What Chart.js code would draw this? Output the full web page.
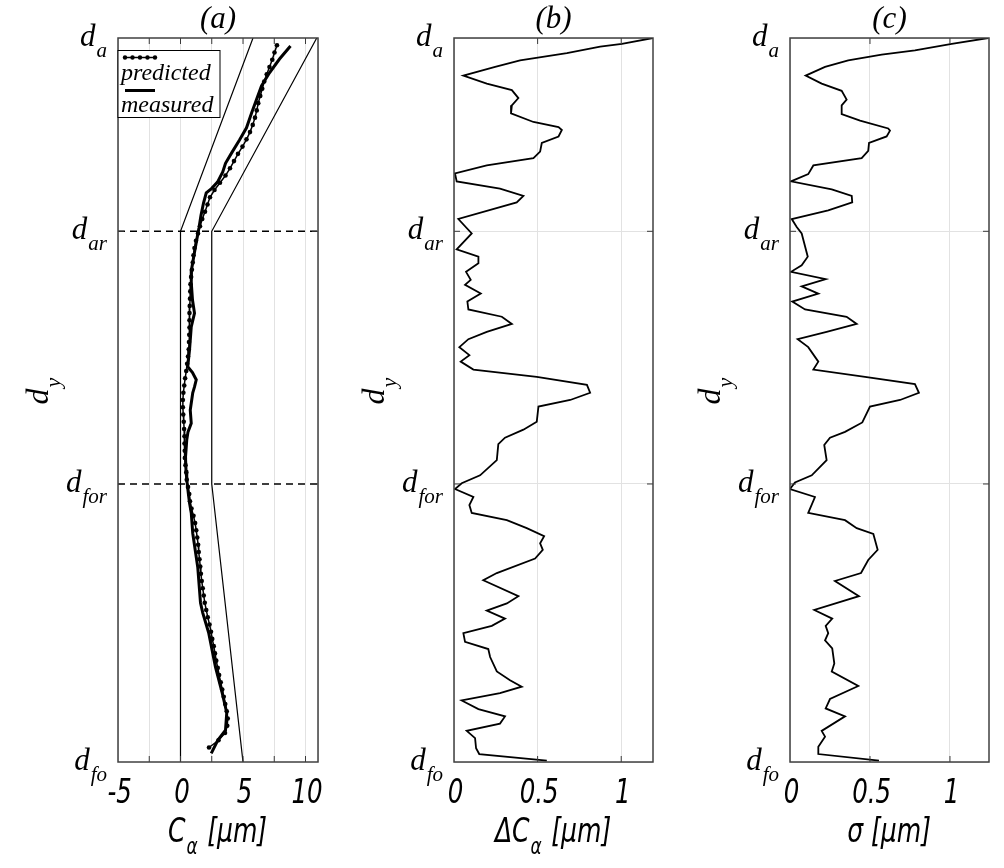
<!DOCTYPE html>
<html>
<head>
<meta charset="utf-8">
<script src="https://cdn.jsdelivr.net/npm/chart.js@4.4.0/dist/chart.umd.min.js"></script>
<style>
  body { margin: 0; background: #fff; }
  #wrap { position: relative; width: 1004px; height: 868px; }
  canvas { position: absolute; top: 0; }
</style>
</head>
<body>
<div id="wrap">
  <canvas id="chartA" width="335" height="868" style="left:0"></canvas>
  <canvas id="chartB" width="335" height="868" style="left:335px"></canvas>
  <canvas id="chartC" width="334" height="868" style="left:670px"></canvas>
</div>
<script>
// depth axis: d_fo (bottom) .. d_a (top), normalised 0..100
var depthTicks = [0, 38.4, 73.3, 100];
var depthNames = ['fo', 'for', 'ar', 'a'];

// (a) C_alpha, predicted (one sample per depth step) and measured
var predDepth = [99, 98, 97, 96, 95, 94, 93, 92, 91, 90, 89, 88, 87, 86, 85, 84, 83, 82, 81, 80,
    79, 78, 77, 76, 75, 74, 73, 72, 71, 70, 69, 68, 67, 66, 65, 64, 63, 62, 61, 60,
    59, 58, 57, 56, 55, 54, 53, 52, 51, 50, 49, 48, 47, 46, 45, 44, 43, 42, 41, 40,
    39, 38, 37, 36, 35, 34, 33, 32, 31, 30, 29, 28, 27, 26, 25, 24, 23, 22, 21, 20,
    19, 18, 17, 16, 15, 14, 13, 12, 11, 10, 9, 8, 7, 6, 5, 4, 3, 2];
var predC = [7.72, 7.52, 7.34, 7.12, 6.90, 6.70, 6.54, 6.38, 6.22, 6.10, 5.96, 5.78, 5.56, 5.28, 4.96, 4.60, 4.28, 3.96, 3.60, 3.16,
    2.72, 2.36, 2.16, 1.96, 1.74, 1.56, 1.40, 1.24, 1.12, 1.04, 0.98, 0.91, 0.85, 0.80, 0.78, 0.76, 0.74, 0.72, 0.72, 0.72,
    0.70, 0.68, 0.66, 0.60, 0.53, 0.46, 0.37, 0.30, 0.23, 0.19, 0.19, 0.22, 0.26, 0.29, 0.32, 0.32, 0.34, 0.35, 0.40, 0.46,
    0.50, 0.60, 0.70, 0.76, 0.88, 1.04, 1.17, 1.26, 1.34, 1.41, 1.46, 1.52, 1.58, 1.63, 1.70, 1.78, 1.86, 1.94, 2.06, 2.18,
    2.32, 2.44, 2.54, 2.66, 2.76, 2.86, 2.98, 3.09, 3.22, 3.34, 3.46, 3.58, 3.70, 3.78, 3.74, 3.56, 3.04, 2.28];
var measDepth = [98.9, 97.1, 95.2, 93.4, 91.4, 89.6, 87.6, 85.9, 84.1, 82.7, 81.5, 80.1, 79.2, 78.6, 77.2, 75.5, 73.8,
    72.7, 70.4, 68.0, 66.2, 63.8, 62.0, 60.1, 56.9, 54.6, 53.8, 52.8, 51.8, 51.0, 48.6, 46.8, 45.6, 44.5,
    42.1, 40.3, 39.0, 36.9, 35.8, 34.4, 31.6, 26.9, 22.0, 20.6, 17.8, 13.1, 9.5, 6.8, 4.4, 3.0, 1.2];
var measC = [8.80, 7.92, 7.12, 6.48, 6.06, 5.68, 5.28, 4.72, 4.08, 3.60, 3.38, 2.96, 2.48, 2.06, 1.84, 1.64, 1.48,
    1.36, 1.12, 0.88, 0.86, 0.96, 1.12, 0.86, 0.72, 0.58, 0.96, 1.26, 1.12, 0.98, 0.78, 0.86, 0.60, 0.50,
    0.40, 0.44, 0.50, 0.64, 0.72, 0.86, 0.98, 1.38, 1.60, 1.78, 2.26, 2.80, 3.34, 3.70, 3.60, 2.98, 2.46];

// (a) tolerance envelope
var envLowDepth = [100, 73.3, 0];
var envLowC = [5.8, 0, 0];
var envHighDepth = [100, 73.3, 38.4, 0];
var envHighC = [10.9, 2.5, 2.5, 5];

// (b) delta C_alpha
var deltaDepth = [100.0, 99.2, 98.8, 97.9, 96.9, 96.0, 94.8, 93.7, 92.8, 91.7,
    90.7, 89.6, 88.4, 87.7, 87.3, 86.4, 85.5, 84.3, 83.4, 82.4,
    81.3, 80.2, 79.2, 78.2, 77.3, 75.0, 73.0, 70.8, 69.8, 68.9,
    67.7, 66.6, 65.9, 64.7, 63.6, 62.5, 61.5, 60.5, 59.4, 58.4,
    57.3, 56.2, 55.3, 54.2, 53.2, 52.1, 51.0, 50.0, 49.1, 47.0,
    45.9, 44.8, 43.9, 41.7, 39.6, 38.5, 37.7, 36.6, 35.5, 34.4,
    33.4, 32.3, 31.2, 30.2, 29.3, 28.1, 26.1, 25.1, 22.9, 21.9,
    20.9, 19.8, 18.8, 17.8, 16.6, 15.6, 14.5, 12.5, 11.3, 10.4,
    9.5, 8.5, 7.3, 6.3, 5.3, 4.3, 3.3, 1.9, 1.1, 0.2];
var deltaC = [1.19, 1.004, 0.874, 0.675, 0.395, 0.246, 0.056, 0.196, 0.346, 0.385,
    0.346, 0.341, 0.475, 0.625, 0.645, 0.625, 0.525, 0.515, 0.475, 0.196,
    0.006, 0.016, 0.275, 0.415, 0.375, 0.026, 0.106, 0.016, 0.146, 0.146,
    0.072, 0.100, 0.066, 0.160, 0.080, 0.086, 0.286, 0.346, 0.196, 0.086,
    0.032, 0.092, 0.040, 0.116, 0.495, 0.795, 0.814, 0.695, 0.505, 0.495,
    0.415, 0.305, 0.265, 0.256, 0.156, 0.046, 0.006, 0.116, 0.092, 0.106,
    0.316, 0.435, 0.539, 0.515, 0.531, 0.485, 0.256, 0.175, 0.385, 0.316,
    0.196, 0.305, 0.226, 0.056, 0.066, 0.205, 0.216, 0.256, 0.335, 0.405,
    0.275, 0.046, 0.146, 0.305, 0.275, 0.076, 0.126, 0.132, 0.151, 0.555];

// (c) sigma
var sigmaDepth = [100.0, 99.2, 98.3, 97.7, 96.9, 96.0, 94.8, 93.7, 92.7, 91.5,
    90.7, 89.5, 88.6, 87.5, 87.2, 86.4, 85.5, 84.4, 83.4, 82.4,
    81.2, 80.2, 79.1, 78.2, 77.3, 76.2, 75.0, 73.9, 73.0, 69.8,
    68.6, 67.7, 66.7, 65.7, 64.7, 63.6, 62.5, 61.5, 60.5, 59.4,
    58.4, 57.3, 55.3, 54.2, 53.2, 52.2, 51.0, 50.0, 49.1, 46.9,
    45.6, 44.8, 43.8, 41.7, 39.6, 38.6, 37.7, 36.6, 34.4, 33.4,
    32.3, 31.5, 29.3, 27.9, 26.1, 25.0, 22.9, 21.0, 19.8, 18.8,
    17.8, 16.8, 15.7, 13.6, 12.5, 10.5, 8.7, 7.4, 6.3, 4.3,
    3.5, 2.1, 1.1, 0.2];
var sigmaVal = [1.239, 1.011, 0.781, 0.573, 0.364, 0.219, 0.098, 0.198, 0.323, 0.354,
    0.323, 0.323, 0.438, 0.614, 0.625, 0.604, 0.494, 0.489, 0.448, 0.146,
    0.114, 0.006, 0.261, 0.386, 0.389, 0.239, 0.011, 0.042, 0.073, 0.111,
    0.073, 0.006, 0.223, 0.073, 0.177, 0.014, 0.094, 0.354, 0.417, 0.229,
    0.048, 0.114, 0.177, 0.146, 0.469, 0.781, 0.806, 0.688, 0.500, 0.452,
    0.344, 0.250, 0.214, 0.229, 0.136, 0.031, 0.000, 0.156, 0.114, 0.344,
    0.417, 0.521, 0.548, 0.489, 0.444, 0.281, 0.431, 0.152, 0.264, 0.223,
    0.239, 0.219, 0.264, 0.277, 0.261, 0.427, 0.250, 0.223, 0.344, 0.198,
    0.219, 0.177, 0.177, 0.556];

// x ticks
var ticksA = [-5, -2.5, 0, 2.5, 5, 7.5, 10, 11];
var labelsA = [-5, 0, 5, 10];
var ticksBC = [0, 0.5, 1];
var labelsBC = [0, 0.5, 1];

var serif = "'Liberation Serif', 'DejaVu Serif', serif";
var narrow = "'Liberation Sans Narrow', 'DejaVu Sans Condensed', 'Liberation Sans', sans-serif";

function pts(xs, ys) {
    return xs.map(function(x, i) { return { x: x, y: ys[i] }; });
}

function line(ctx, x1, y1, x2, y2) {
    ctx.beginPath();
    ctx.moveTo(x1, y1);
    ctx.lineTo(x2, y2);
    ctx.stroke();
}

// draw text parts [{t, sub}] starting at x, baseline y, squeezed by sx; returns width
function drawParts(ctx, parts, x, y, size, family, sx, measureOnly) {
    var w = 0;
    parts.forEach(function(p) {
        var s = p.sub ? Math.round(size * 0.68) : size;
        ctx.font = 'italic ' + s + 'px ' + family;
        if (!measureOnly) {
            ctx.save();
            ctx.translate(x + w, y + (p.sub ? size * 0.36 : 0));
            ctx.scale(sx, 1);
            ctx.fillText(p.t, 0, 0);
            ctx.restore();
        }
        w += (ctx.measureText(p.t).width + (p.sub ? 2 : 1)) * sx;
    });
    return w;
}

var panelText = {
    id: 'panelText',
    afterDraw: function(chart, args, o) {
        var ctx = chart.ctx, a = chart.chartArea;
        var xs = chart.scales.x, ys = chart.scales.y;
        ctx.save();
        ctx.textAlign = 'left';
        ctx.textBaseline = 'alphabetic';

        // inward tick marks
        ctx.strokeStyle = '#3a3a3a';
        ctx.lineWidth = 1;
        o.xTicks.forEach(function(v) {
            var px = xs.getPixelForValue(v);
            if (px <= a.left + 1 || px >= a.right - 1) return;
            line(ctx, px, a.bottom, px, a.bottom - 6);
            line(ctx, px, a.top, px, a.top + 6);
        });
        depthTicks.forEach(function(v) {
            var py = ys.getPixelForValue(v);
            if (py <= a.top + 1 || py >= a.bottom - 1) return;
            line(ctx, a.left, py, a.left + 6, py);
            line(ctx, a.right, py, a.right - 6, py);
        });

        // frame
        ctx.strokeStyle = '#404040';
        ctx.lineWidth = 1.5;
        ctx.strokeRect(a.left, a.top, a.right - a.left, a.bottom - a.top);

        ctx.fillStyle = '#000';

        // x tick labels (condensed italic)
        o.xLabels.forEach(function(v) {
            var parts = [{ t: String(v) }];
            var w = drawParts(ctx, parts, 0, 0, 34, narrow, 0.8, true);
            drawParts(ctx, parts, xs.getPixelForValue(v) - w / 2 + 2, a.bottom + 41, 34, narrow, 0.8);
        });

        // depth tick labels d_xx
        depthTicks.forEach(function(v, i) {
            var parts = [{ t: 'd' }, { t: depthNames[i], sub: true }];
            var w = drawParts(ctx, parts, 0, 0, 31, serif, 1, true);
            drawParts(ctx, parts, a.left - 9 - w, ys.getPixelForValue(v) + 8, 31, serif, 1);
        });

        // panel title
        ctx.textAlign = 'center';
        ctx.font = 'italic 31px ' + serif;
        ctx.fillText(o.title, (a.left + a.right) / 2, 28);
        ctx.textAlign = 'left';

        // x axis title
        var tw = drawParts(ctx, o.xTitle, 0, 0, 34, narrow, 0.82, true);
        drawParts(ctx, o.xTitle, (a.left + a.right) / 2 - tw / 2, a.bottom + 80, 34, narrow, 0.82);

        // y axis title, rotated
        var yParts = [{ t: 'd' }, { t: 'y', sub: true }];
        var yw = drawParts(ctx, yParts, 0, 0, 32, serif, 1, true);
        ctx.save();
        ctx.translate(a.left - 70, 390);
        ctx.rotate(-Math.PI / 2);
        drawParts(ctx, yParts, -yw / 2, 0, 32, serif, 1);
        ctx.restore();

        // legend box
        if (o.legend) {
            var lx = a.left, ly = 50.5;
            ctx.fillStyle = '#fff';
            ctx.fillRect(lx, ly, 102, 67);
            ctx.strokeStyle = '#000';
            ctx.lineWidth = 1;
            ctx.strokeRect(lx, ly, 102, 67);
            ctx.lineWidth = 1.5;
            line(ctx, lx + 7, ly + 7, lx + 37, ly + 7);
            ctx.fillStyle = '#000';
            [7, 14.5, 22, 29.5, 37].forEach(function(dx) {
                ctx.beginPath();
                ctx.arc(lx + dx, ly + 7, 2.2, 0, Math.PI * 2);
                ctx.fill();
            });
            ctx.lineWidth = 3;
            line(ctx, lx + 7, ly + 40, lx + 37, ly + 40);
            ctx.font = 'italic 24px ' + serif;
            ctx.fillText('predicted', lx + 3, ly + 29);
            ctx.fillText('measured', lx + 3, ly + 61);
        }
        ctx.restore();
    }
};

function makePanel(canvasId, pad, xMin, xMax, xTicks, opts, datasets, showYGrid) {
    var ctx = document.getElementById(canvasId).getContext('2d');
    return new Chart(ctx, {
        type: 'scatter',
        data: { datasets: datasets },
        options: {
            responsive: false,
            devicePixelRatio: 1,
            animation: false,
            layout: { padding: pad },
            plugins: {
                legend: { display: false },
                tooltip: { enabled: false },
                panelText: opts
            },
            scales: {
                x: {
                    type: 'linear',
                    min: xMin,
                    max: xMax,
                    afterBuildTicks: function(scale) {
                        scale.ticks = xTicks.map(function(v) { return { value: v }; });
                    },
                    ticks: { display: false },
                    border: { display: false },
                    grid: { color: '#e2e2e2', lineWidth: 1, drawTicks: false }
                },
                y: {
                    type: 'linear',
                    min: 0,
                    max: 100,
                    afterBuildTicks: function(scale) {
                        scale.ticks = depthTicks.map(function(v) { return { value: v }; });
                    },
                    ticks: { display: false },
                    border: { display: false },
                    grid: { display: showYGrid, color: '#e2e2e2', lineWidth: 1, drawTicks: false }
                }
            }
        },
        plugins: [panelText]
    });
}

function lineSet(data, width, extra) {
    return Object.assign({
        data: data,
        showLine: true,
        borderColor: '#000',
        backgroundColor: '#000',
        borderWidth: width,
        pointRadius: 0,
        tension: 0
    }, extra || {});
}

// (a)
makePanel('chartA', { left: 118, right: 17, top: 38, bottom: 106 }, -5, 11, ticksA, {
    title: '(a)',
    xTicks: ticksA,
    xLabels: labelsA,
    xTitle: [{ t: 'C' }, { t: 'α', sub: true }, { t: ' [μm]' }],
    legend: true
}, [
    lineSet(pts(predC, predDepth), 1.5, { pointRadius: 2.3, pointBorderWidth: 0 }),
    lineSet(pts(measC, measDepth), 3),
    lineSet(pts(envLowC, envLowDepth), 1.2),
    lineSet(pts(envHighC, envHighDepth), 1.2),
    lineSet(pts([-5, 11], [depthTicks[2], depthTicks[2]]), 1.5, { borderDash: [7, 5] }),
    lineSet(pts([-5, 11], [depthTicks[1], depthTicks[1]]), 1.5, { borderDash: [7, 5] })
], false);

// (b)
makePanel('chartB', { left: 119, right: 17, top: 38, bottom: 106 }, 0, 1.19, ticksBC, {
    title: '(b)',
    xTicks: ticksBC,
    xLabels: labelsBC,
    xTitle: [{ t: 'ΔC' }, { t: 'α', sub: true }, { t: ' [μm]' }],
    legend: false
}, [
    lineSet(pts(deltaC, deltaDepth), 1.8)
], true);

// (c)
makePanel('chartC', { left: 120, right: 15, top: 38, bottom: 106 }, 0, 1.244, ticksBC, {
    title: '(c)',
    xTicks: ticksBC,
    xLabels: labelsBC,
    xTitle: [{ t: 'σ [μm]' }],
    legend: false
}, [
    lineSet(pts(sigmaVal, sigmaDepth), 1.8)
], true);
</script>
</body>
</html>
